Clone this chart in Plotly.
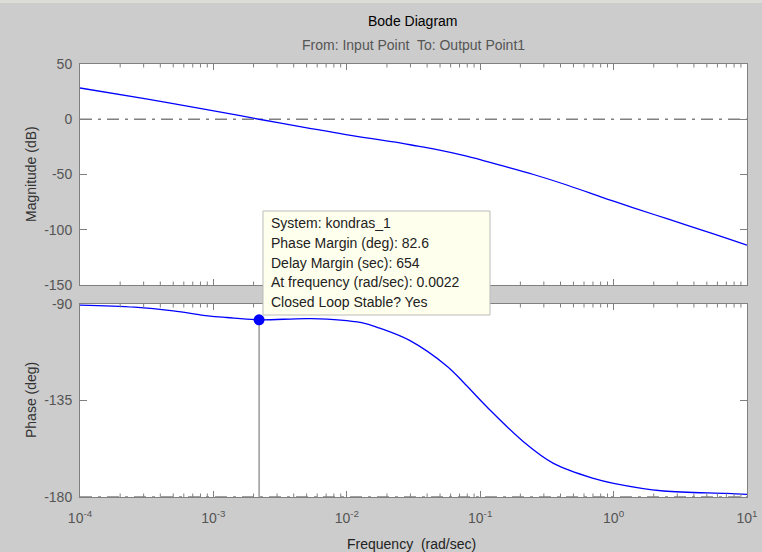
import plotly.graph_objects as go

# ---------------- data ----------------
mag_freq = [1e-4, 3.05e-4, 9.6e-4, 2.2e-3, 5.4e-3, 9.6e-3, 2.5e-2, 3.42e-2, 4.46e-2, 7.92e-2,
            0.141, 0.251, 0.446, 0.792, 1.0, 1.41, 2.51, 4.47, 7.94, 10.0]
mag_db = [28.3, 18.7, 8.1, 0.0, -8.4, -13.6, -21.4, -24.4, -26.8, -33.4,
          -41.6, -50.0, -59.5, -70.0, -74.2, -80.2, -90.0, -99.8, -109.8, -114.0]

phase_freq = [1e-4, 2.57e-4, 5e-4, 9.1e-4, 1.26e-3, 2.2e-3, 5.4e-3, 1.29e-2, 1.77e-2, 2.98e-2,
              5.61e-2, 7.48e-2, 0.112, 0.211, 0.354, 0.706, 1.0, 2.37, 7.08, 10.0]
phase_deg = [-90.5, -91.5, -93.2, -95.5, -96.3, -97.4, -96.8, -98.7, -101.3, -107.1,
             -118.9, -126.5, -137.9, -154.2, -164.3, -171.3, -173.6, -177.2, -178.3, -178.8]

pm_freq = 0.0022
pm_phase = -97.4
ref_db = 0
ref_phase = -180

x_ticks = [1e-4, 1e-3, 1e-2, 1e-1, 1e0, 1e1]
x_labels = ["10<sup>-4</sup>", "10<sup>-3</sup>", "10<sup>-2</sup>", "10<sup>-1</sup>",
            "10<sup>0</sup>", "10<sup>1</sup>"]
mag_ticks = [50, 0, -50, -100, -150]
mag_labels = ["50", "0", "-50", "-100", "-150"]
phase_ticks = [-90, -135, -180]
phase_labels = ["-90", "-135", "-180"]

tip_lines = ["System: kondras_1", "Phase Margin (deg): 82.6", "Delay Margin (sec): 654",
             "At frequency (rad/sec): 0.0022", "Closed Loop Stable? Yes"]

# ---------------- layout helpers ----------------
W, H = 762, 552
def px(x):
    return x / W
def py(y):
    return 1 - y / H

FONT = "Liberation Sans, Arial, sans-serif"
AX = "#808080"
TICKFONT = dict(family=FONT, size=14, color="#555555")

TOP = (64, 285)     # pixel rows of magnitude axes
BOT = (304, 497)    # pixel rows of phase axes

minor_vals = [m * 10 ** d for d in range(-4, 1) for m in range(2, 10)]

fig = go.Figure()

fig.add_trace(go.Scatter(x=mag_freq, y=mag_db, mode="lines", line_shape="spline",
                         line=dict(color="#0000FF", width=1.3), xaxis="x", yaxis="y",
                         showlegend=False, hoverinfo="skip"))
fig.add_trace(go.Scatter(x=[pm_freq, pm_freq], y=[pm_phase, ref_phase], mode="lines",
                         line=dict(color="#666666", width=1), xaxis="x2", yaxis="y2",
                         showlegend=False, hoverinfo="skip"))
fig.add_trace(go.Scatter(x=phase_freq, y=phase_deg, mode="lines", line_shape="spline",
                         line=dict(color="#0000FF", width=1.3), xaxis="x2", yaxis="y2",
                         showlegend=False, hoverinfo="skip"))
fig.add_trace(go.Scatter(x=[pm_freq], y=[pm_phase], mode="markers",
                         marker=dict(color="#0000FF", size=11), xaxis="x2", yaxis="y2",
                         showlegend=False, hoverinfo="skip"))

xcommon = dict(type="log", range=[-4, 1], showgrid=False, zeroline=False, automargin=False,
               showline=True, linecolor=AX, linewidth=1, mirror="ticks",
               ticks="inside", ticklen=6, tickcolor=AX, tickwidth=1,
               tickmode="array", tickvals=x_ticks, ticktext=x_labels,
               domain=[px(80), px(747)], tickfont=TICKFONT)

ycommon = dict(showgrid=False, zeroline=False, showline=True, linecolor=AX, linewidth=1,
               automargin=False, mirror="ticks", ticks="inside", ticklen=7, tickcolor=AX,
               tickwidth=1, tickmode="array", tickfont=TICKFONT, ticklabelstandoff=4)

shapes = [
    dict(type="rect", xref="paper", yref="paper", x0=0, x1=1, y0=py(3), y1=1,
         fillcolor="#DCDCD6", line=dict(width=0), layer="below"),
    dict(type="line", xref="x domain", yref="y", x0=0, x1=1, y0=ref_db, y1=ref_db,
         line=dict(color="#808080", width=1.5, dash="12px,6px,3px,6px"), layer="below"),
    dict(type="line", xref="x2 domain", yref="y2", x0=0, x1=1, y0=ref_phase, y1=ref_phase,
         line=dict(color="#808080", width=1.5, dash="12px,6px,3px,6px"), layer="below"),
]

# minor x ticks (inside, on top and bottom of both axes)
MINOR_LEN = 3.5
for xr, yr, (t, b) in (("x", "y domain", TOP), ("x2", "y2 domain", BOT)):
    frac = MINOR_LEN / (b - t)
    for v in minor_vals:
        shapes.append(dict(type="line", xref=xr, yref=yr, x0=v, x1=v, y0=0, y1=frac,
                           line=dict(color=AX, width=1), layer="above"))
        shapes.append(dict(type="line", xref=xr, yref=yr, x0=v, x1=v, y0=1 - frac, y1=1,
                           line=dict(color=AX, width=1), layer="above"))

shapes.append(dict(type="rect", xref="paper", yref="paper", x0=px(263), x1=px(490),
                   y0=py(315), y1=py(211), fillcolor="#FFFFED",
                   line=dict(color="#BBBBBB", width=1), layer="above"))

fig.update_layout(
    width=W, height=H, margin=dict(l=0, r=0, t=0, b=0, autoexpand=False),
    paper_bgcolor="#CCCCCC", plot_bgcolor="#FFFFFF",
    xaxis=dict(**xcommon, anchor="y", showticklabels=False, matches="x2"),
    xaxis2=dict(**xcommon, anchor="y2", showticklabels=True, ticklabelstandoff=8),
    yaxis=dict(**ycommon, range=[-150, 50], tickvals=mag_ticks, ticktext=mag_labels,
               domain=[py(TOP[1]), py(TOP[0])], anchor="x"),
    yaxis2=dict(**ycommon, range=[-180, -90], tickvals=phase_ticks, ticktext=phase_labels,
                domain=[py(BOT[1]), py(BOT[0])], anchor="x2"),
    shapes=shapes,
)

def A(text, x, y, size=14, color="#222222", angle=0, xanchor="center"):
    return dict(text=text, x=px(x), y=py(y), xref="paper", yref="paper", showarrow=False,
                xanchor=xanchor, yanchor="middle", textangle=angle,
                font=dict(family=FONT, size=size, color=color))

ann = [
    A("Bode Diagram", 413, 21, color="#000000"),
    A("From: Input Point\u00a0 To: Output Point1", 413, 45, color="#555555"),
    A("Magnitude (dB)", 31, 174, color="#333333", angle=-90),
    A("Phase (deg)", 31, 400, color="#333333", angle=-90),
    A("Frequency\u00a0 (rad/sec)", 411, 544, color="#222222"),
]
tip_y = [223, 243, 262.5, 282, 301.5]
for t, yy in zip(tip_lines, tip_y):
    ann.append(A(t, 269, yy, xanchor="left"))
fig.update_layout(annotations=ann)

fig.write_html("out.html")
